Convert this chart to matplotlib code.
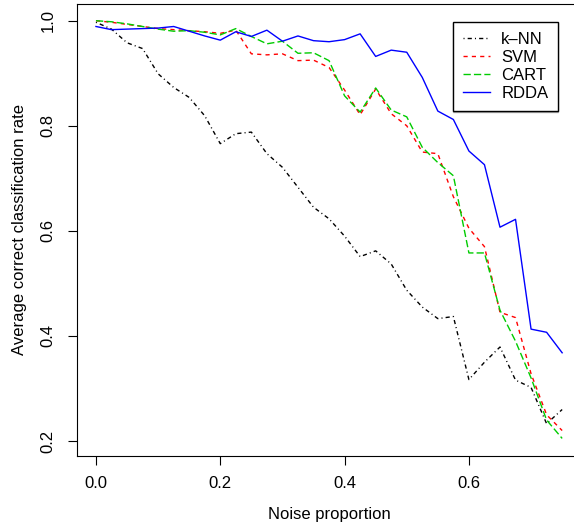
import numpy as np
import matplotlib
matplotlib.use("Agg")
import matplotlib.pyplot as plt

plt.rcParams['font.family'] = ['Liberation Sans', 'DejaVu Sans']

# noise proportion grid, 0 to 0.75 step 0.025
noise = np.round(np.arange(31) * 0.025, 3)

knn = [0.997, 0.984, 0.958, 0.947, 0.899, 0.873, 0.854, 0.819, 0.766, 0.785,
       0.788, 0.747, 0.721, 0.683, 0.645, 0.623, 0.590, 0.551, 0.562, 0.537,
       0.487, 0.455, 0.433, 0.437, 0.317, 0.350, 0.379, 0.316, 0.302, 0.233,
       0.260]
svm = [1.000, 0.997, 0.993, 0.989, 0.985, 0.983, 0.981, 0.979, 0.976, 0.982,
       0.937, 0.935, 0.937, 0.924, 0.925, 0.911, 0.868, 0.821, 0.870, 0.823,
       0.800, 0.750, 0.747, 0.665, 0.605, 0.570, 0.445, 0.435, 0.328, 0.250,
       0.220]
cart = [1.000, 0.998, 0.994, 0.989, 0.984, 0.980, 0.981, 0.978, 0.973, 0.985,
        0.970, 0.956, 0.961, 0.938, 0.939, 0.924, 0.857, 0.826, 0.872, 0.830,
        0.817, 0.759, 0.730, 0.705, 0.558, 0.558, 0.449, 0.390, 0.320, 0.240,
        0.205]
rdda = [0.989, 0.983, 0.984, 0.985, 0.986, 0.989, 0.980, 0.971, 0.963, 0.979,
        0.970, 0.982, 0.961, 0.971, 0.962, 0.960, 0.964, 0.975, 0.932, 0.944,
        0.940, 0.892, 0.828, 0.812, 0.752, 0.726, 0.607, 0.622, 0.413, 0.407,
        0.368]

W, H = 574, 528
fig = plt.figure(figsize=(W / 100, H / 100), dpi=100)
# axes box in pixels: left 77, right 581 (cropped), top 4, bottom 455.5
ax = fig.add_axes([77.3 / W, (H - 455.5) / H, (580.8 - 77.3) / W, (455.5 - 4) / H])

lw = 1.0
ax.plot(noise, knn, color='black', lw=lw, dashes=(0.75, 2.25, 3.0, 2.25), label='k\u2013NN')
ax.plot(noise, svm, color='red', lw=lw, dashes=(3.0, 3.0), label='SVM')
ax.plot(noise, cart, color='#00cc00', lw=lw, dashes=(5.25, 2.25), label='CART')
ax.plot(noise, rdda, color='blue', lw=lw, label='RDDA')

ax.set_xlim(-0.03, 0.78)
ax.set_ylim(0.1725, 1.0318)
ax.set_xticks([0.0, 0.2, 0.4, 0.6])
ax.set_xticklabels(['0.0', '0.2', '0.4', '0.6'])
ax.set_yticks([0.2, 0.4, 0.6, 0.8, 1.0])
ax.set_yticklabels(['0.2', '0.4', '0.6', '0.8', '1.0'], rotation=90, va='center')

ax.tick_params(direction='out', length=6.5, width=0.8, labelsize=12)
ax.tick_params(axis='x', pad=8)
ax.tick_params(axis='y', pad=9)
for s in ax.spines.values():
    s.set_linewidth(0.8)

ax.set_xlabel('Noise proportion', fontsize=12, labelpad=12)
ax.set_ylabel('Average correct classification rate', fontsize=12, labelpad=10)

# legend frame: x 453..555 px, y 22..108 px
leg = ax.legend(loc='upper left',
                bbox_to_anchor=(453 / W, 1 - 21.7 / H), bbox_transform=fig.transFigure,
                fontsize=12, frameon=True, fancybox=False,
                shadow=dict(ox=0, oy=-1.2, color='0.45', shade=0),
                handlelength=1.6, handletextpad=0.7, borderpad=0.6,
                labelspacing=0.18, borderaxespad=0)
leg.get_frame().set_edgecolor('black')
leg.get_frame().set_linewidth(1.0)

fig.savefig('out.png', dpi=100)
